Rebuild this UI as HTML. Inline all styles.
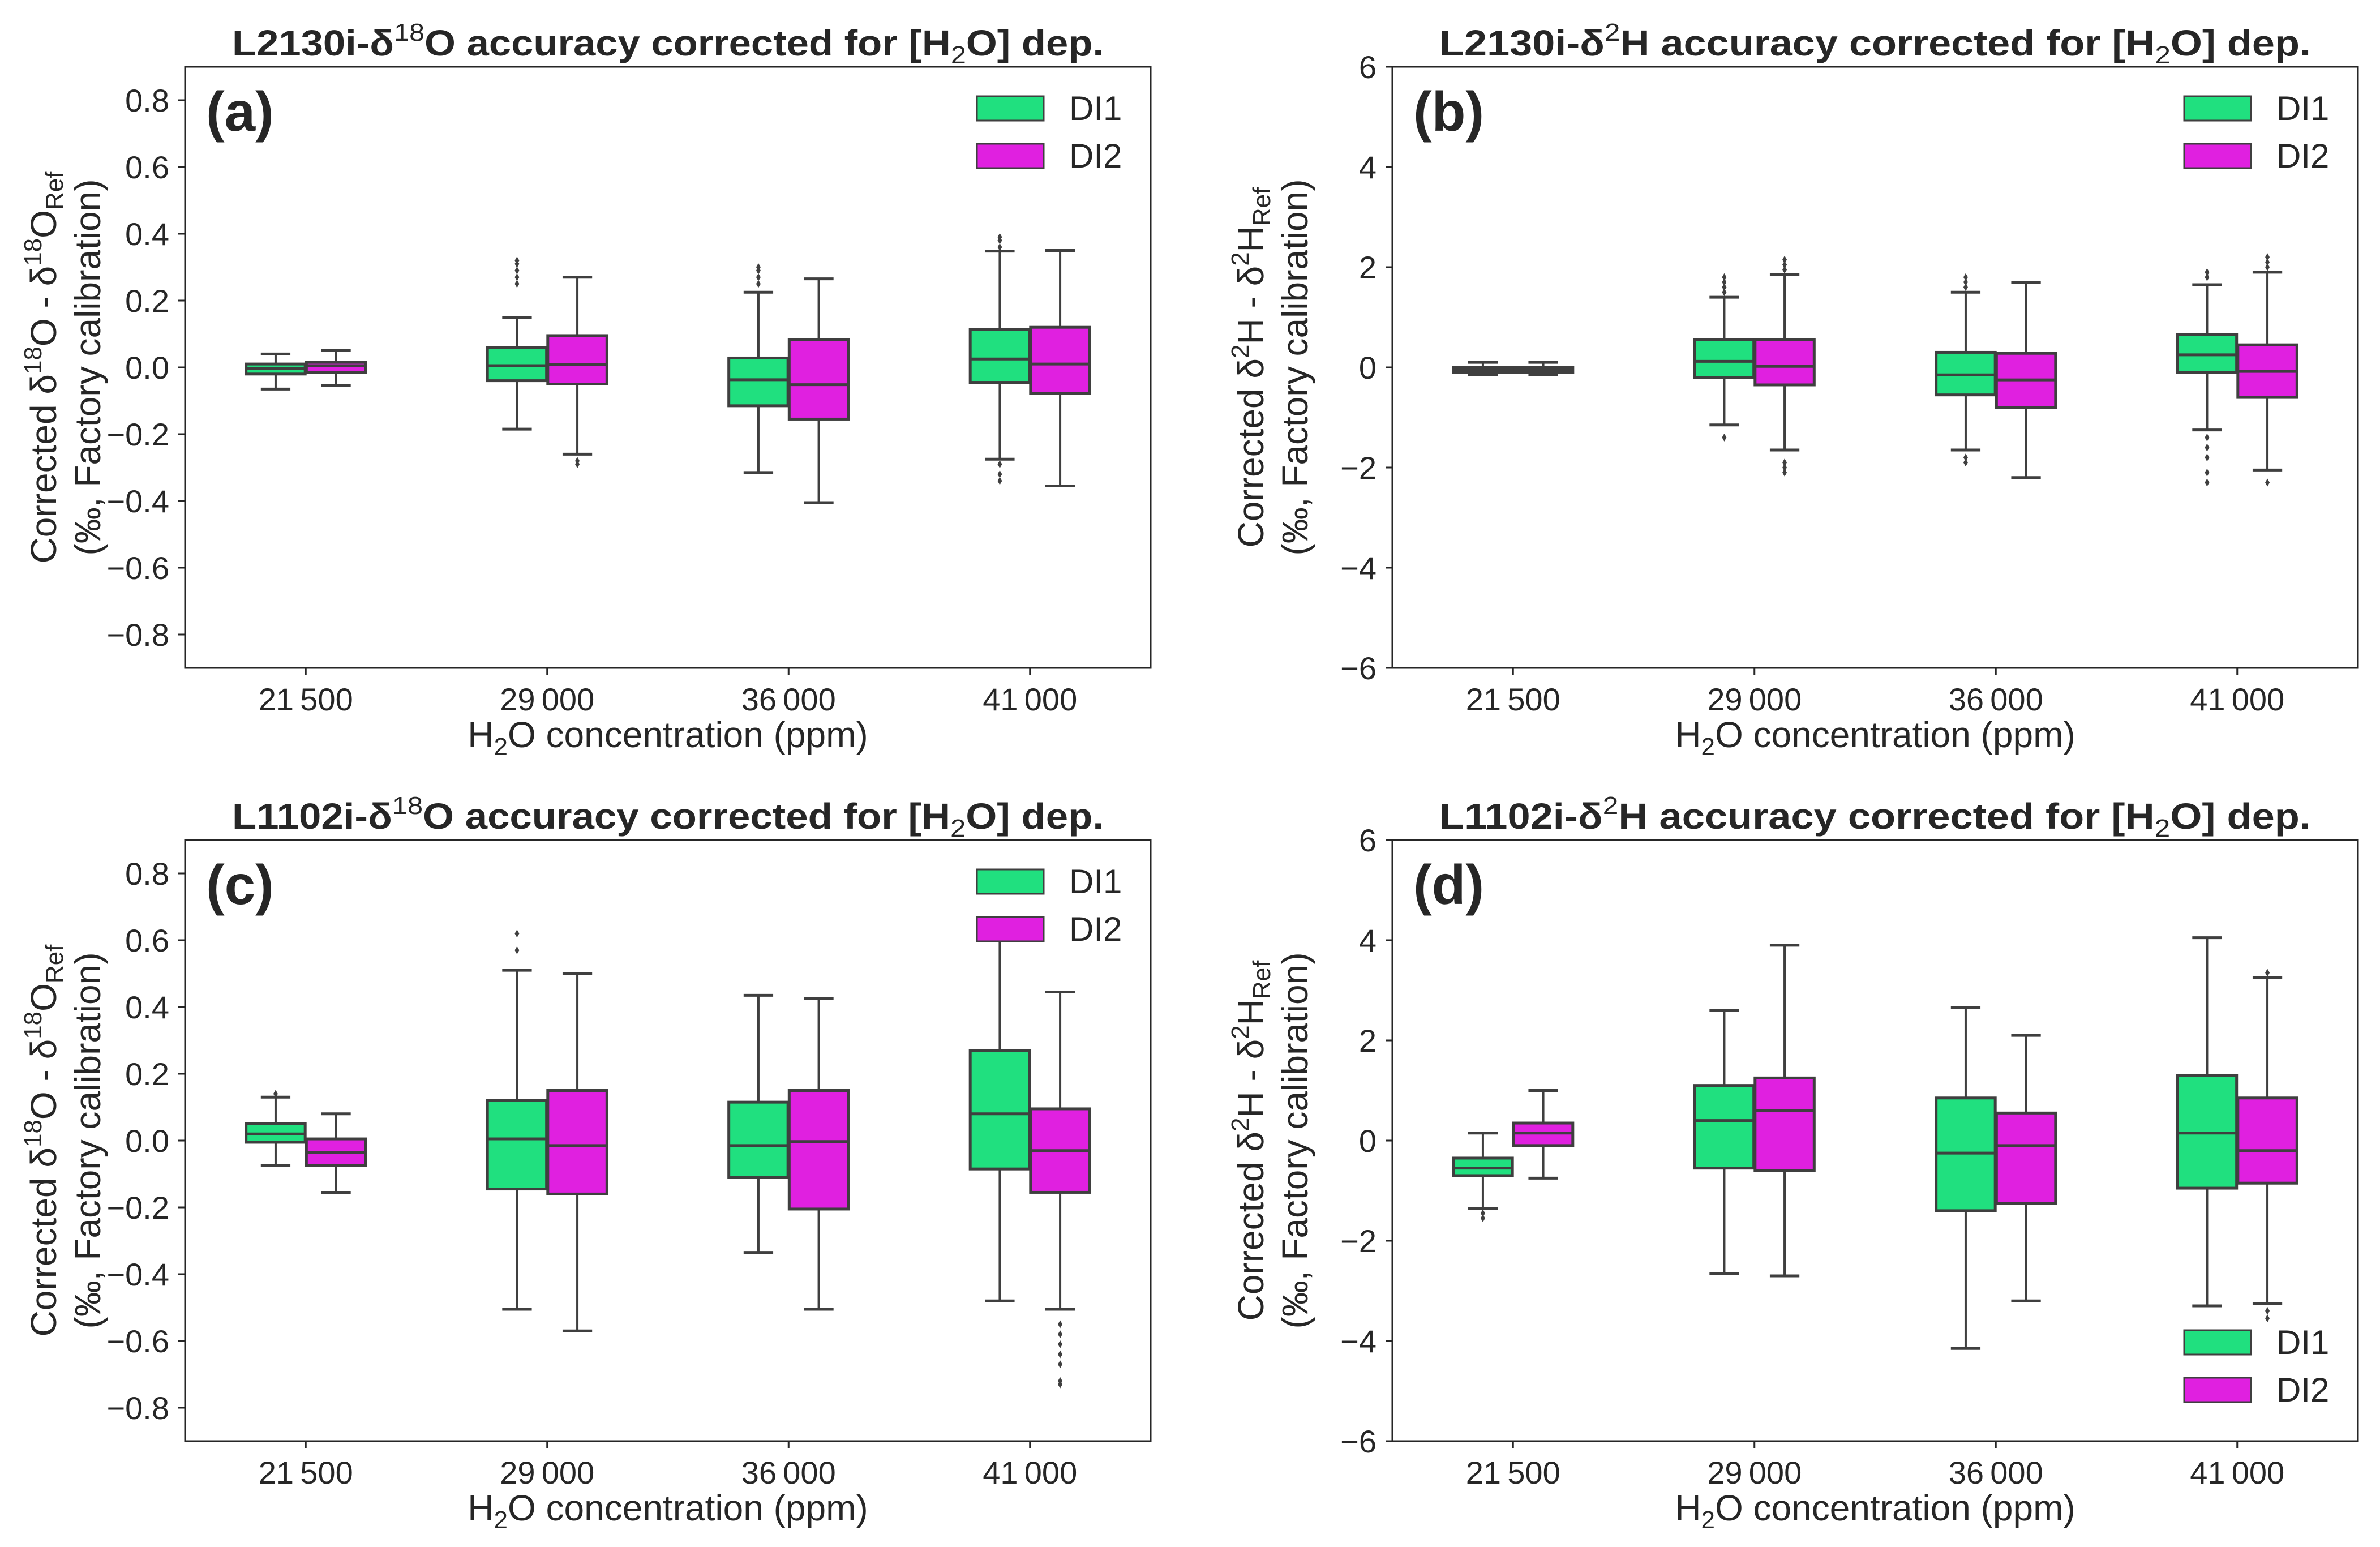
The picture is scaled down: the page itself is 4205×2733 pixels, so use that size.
<!DOCTYPE html>
<html><head><meta charset="utf-8">
<style>
html,body{margin:0;padding:0;background:#fff;}
svg{display:block;}
text{font-family:"Liberation Sans",sans-serif;fill:#262626;}
</style></head>
<body>
<svg id="fig" width="4205" height="2733" viewBox="0 0 4205 2733" xmlns="http://www.w3.org/2000/svg"></svg>
<script>
// ---- data ----
const categories = ["21\u2009500","29\u2009000","36\u2009000","41\u2009000"];
const seriesNames = ["DI1","DI2"];
// each box: [whiskerLow, q1, median, q3, whiskerHigh]
const aDI1 = [[-0.065,-0.02,-0.003,0.01,0.04],[-0.185,-0.04,0.005,0.06,0.15],[-0.315,-0.115,-0.037,0.028,0.225],[-0.275,-0.045,0.025,0.113,0.348]];
const aDI2 = [[-0.055,-0.015,0.005,0.015,0.05],[-0.26,-0.05,0.008,0.095,0.27],[-0.405,-0.155,-0.052,0.083,0.265],[-0.355,-0.078,0.01,0.12,0.35]];
const aOut1 = [[],[0.25,0.27,0.29,0.31,0.32],[0.25,0.27,0.29,0.3],[0.36,0.38,0.39,-0.29,-0.32,-0.34]];
const aOut2 = [[],[-0.28,-0.29],[],[]];
const bDI1 = [[-0.15,-0.1,-0.05,0.0,0.1],[-1.15,-0.2,0.12,0.55,1.4],[-1.65,-0.55,-0.15,0.3,1.5],[-1.25,-0.1,0.25,0.65,1.65]];
const bDI2 = [[-0.15,-0.1,-0.05,0.0,0.1],[-1.65,-0.35,0.02,0.55,1.85],[-2.2,-0.8,-0.25,0.28,1.7],[-2.05,-0.6,-0.08,0.45,1.9]];
const bOut1 = [[],[1.5,1.6,1.7,1.8,-1.4],[1.6,1.7,1.8,-1.8,-1.9],[1.8,1.9,-1.4,-1.6,-1.8,-2.1,-2.3]];
const bOut2 = [[],[1.95,2.05,2.15,-1.9,-2.0,-2.1],[],[2.0,2.1,2.2,-2.3]];
const cDI1 = [[-0.075,-0.005,0.02,0.05,0.13],[-0.505,-0.145,0.005,0.12,0.51],[-0.335,-0.11,-0.015,0.115,0.435],[-0.48,-0.085,0.08,0.27,0.6]];
const cDI2 = [[-0.155,-0.075,-0.035,0.005,0.08],[-0.57,-0.16,-0.015,0.15,0.5],[-0.505,-0.205,-0.003,0.15,0.425],[-0.505,-0.155,-0.03,0.095,0.445]];
const cOut1 = [[0.14],[0.57,0.62],[],[]];
const cOut2 = [[],[],[],[-0.55,-0.58,-0.61,-0.64,-0.67,-0.72,-0.73]];
const dDI1 = [[-1.35,-0.7,-0.55,-0.35,0.15],[-2.65,-0.55,0.4,1.1,2.6],[-4.15,-1.4,-0.25,0.85,2.65],[-3.3,-0.95,0.15,1.3,4.05]];
const dDI2 = [[-0.75,-0.1,0.15,0.35,1.0],[-2.7,-0.6,0.6,1.25,3.9],[-3.2,-1.25,-0.1,0.55,2.1],[-3.25,-0.85,-0.2,0.85,3.25]];
const dOut1 = [[-1.45,-1.55],[],[],[-4.6,-4.7]];
const dOut2 = [[],[],[],[3.35,-3.4,-3.55]];
const ticksO = [-0.8,-0.6,-0.4,-0.2,0.0,0.2,0.4,0.6,0.8];
const ticksH = [-6,-4,-2,0,2,4,6];

const NS="http://www.w3.org/2000/svg";
const svg=document.getElementById('fig');
const COLORS=["#20e07f","#e020e0"], EDGE="#3f3f3f";
function mk(tag,attrs,parent){const e=document.createElementNS(NS,tag);for(const k in attrs)e.setAttribute(k,attrs[k]);(parent||svg).appendChild(e);return e;}

const panels=[
 {id:"a",x0:327,y0:118,ymin:-0.9,ymax:0.9,ticks:ticksO,fmt:v=>v.toFixed(1).replace('-','\u2212'),d:[aDI1,aDI2],o:[aOut1,aOut2],inst:"L2130i",iso:"18",el:"O",legend:"top"},
 {id:"b",x0:2460,y0:118,ymin:-6,ymax:6,ticks:ticksH,fmt:v=>String(v).replace('-','\u2212'),d:[bDI1,bDI2],o:[bOut1,bOut2],inst:"L2130i",iso:"2",el:"H",legend:"top"},
 {id:"c",x0:327,y0:1484,ymin:-0.9,ymax:0.9,ticks:ticksO,fmt:v=>v.toFixed(1).replace('-','\u2212'),d:[cDI1,cDI2],o:[cOut1,cOut2],inst:"L1102i",iso:"18",el:"O",legend:"top"},
 {id:"d",x0:2460,y0:1484,ymin:-6,ymax:6,ticks:ticksH,fmt:v=>String(v).replace('-','\u2212'),d:[dDI1,dDI2],o:[dOut1,dOut2],inst:"L1102i",iso:"2",el:"H",legend:"bottom"}
];
const W=1706,H=1062;

panels.forEach(p=>{
  const g=mk('g',{});
  
  
  const yS=v=>p.y0+H-(v-p.ymin)/(p.ymax-p.ymin)*H;
  const cw=W/categories.length;
  const xC=i=>p.x0+cw*(i+0.5);
  // title
  const t=mk('text',{x:p.x0+W/2,y:p.y0-20,'text-anchor':'middle','font-size':64,'font-weight':'bold',textLength:1540,lengthAdjust:'spacingAndGlyphs'},g);
  
  
  t.innerHTML=p.inst+'-\u03b4<tspan dy="-26" font-size="44" font-weight="normal">'+p.iso+'</tspan><tspan dy="26">'+p.el+' accuracy corrected for [H</tspan><tspan dy="14" font-size="44" font-weight="normal">2</tspan><tspan dy="-14">O] dep.</tspan>';
  // y ticks
  p.ticks.forEach(v=>{
    const y=yS(v);
    mk('line',{x1:p.x0-12,x2:p.x0,y1:y,y2:y,stroke:'#262626','stroke-width':3},g);
    const tl=mk('text',{x:p.x0-28,y:y+20,'text-anchor':'end','font-size':56},g);
    
    
    tl.textContent=p.fmt(v);
  });
  // x ticks
  categories.forEach((c,i)=>{
    const x=xC(i);
    mk('line',{x1:x,x2:x,y1:p.y0+H,y2:p.y0+H+12,stroke:'#262626','stroke-width':3},g);
    const tl=mk('text',{x:x,y:p.y0+H+75,'text-anchor':'middle','font-size':56},g);
    
    
    tl.textContent=c;
  });
  // x label
  const xl=mk('text',{x:p.x0+W/2,y:p.y0+H+140,'text-anchor':'middle','font-size':64},g);
  
  
  xl.innerHTML='H<tspan dy="14" font-size="44">2</tspan><tspan dy="-14">O concentration (ppm)</tspan>';
  // y label
  const cy=p.y0+H/2;
  const yl=mk('text',{transform:`translate(${p.x0-228},${cy}) rotate(-90)`,'text-anchor':'middle','font-size':64},g);
  
  
  yl.innerHTML='Corrected \u03b4<tspan dy="-26" font-size="44">'+p.iso+'</tspan><tspan dy="26">'+p.el+' - \u03b4</tspan><tspan dy="-26" font-size="44">'+p.iso+'</tspan><tspan dy="26">'+p.el+'</tspan><tspan dy="12" font-size="44">Ref</tspan>';
  const yl2=mk('text',{transform:`translate(${p.x0-150},${cy}) rotate(-90)`,'text-anchor':'middle','font-size':64},g);
  
  
  yl2.textContent='(\u2030, Factory calibration)';
  // boxes
  const bw=cw*0.245;
  p.d.forEach((ser,s)=>{
    ser.forEach((b,i)=>{
      const cx=xC(i)+(s===0?-1:1)*cw*0.125;
      const bg=mk('g',{},g);
      
      
      mk('line',{x1:cx,x2:cx,y1:yS(b[0]),y2:yS(b[1]),stroke:EDGE,'stroke-width':4},bg);
      mk('line',{x1:cx,x2:cx,y1:yS(b[3]),y2:yS(b[4]),stroke:EDGE,'stroke-width':4},bg);
      mk('line',{x1:cx-bw/4,x2:cx+bw/4,y1:yS(b[0]),y2:yS(b[0]),stroke:EDGE,'stroke-width':5},bg);
      mk('line',{x1:cx-bw/4,x2:cx+bw/4,y1:yS(b[4]),y2:yS(b[4]),stroke:EDGE,'stroke-width':5},bg);
      mk('rect',{x:cx-bw/2,y:yS(b[3]),width:bw,height:Math.max(yS(b[1])-yS(b[3]),1),fill:COLORS[s],stroke:EDGE,'stroke-width':5},bg);
      mk('line',{x1:cx-bw/2,x2:cx+bw/2,y1:yS(b[2]),y2:yS(b[2]),stroke:EDGE,'stroke-width':5},bg);
      p.o[s][i].forEach(v=>{
        const y=yS(v);
        const m=mk('path',{d:`M${cx},${y-7} L${cx+4},${y} L${cx},${y+7} L${cx-4},${y} Z`,fill:EDGE},bg);
        
        
      });
    });
  });
  // frame
  mk('rect',{x:p.x0,y:p.y0,width:W,height:H,fill:'none',stroke:'#262626','stroke-width':3},g);
  // panel letter
  const pl=mk('text',{x:p.x0+37,y:p.y0+113,'font-size':98,'font-weight':'bold'},g);
  
  
  pl.textContent='('+p.id+')';
  // legend
  const lx=p.x0+W-307;
  const ly=p.legend==='top'? p.y0+52 : p.y0+H-196;
  const lg=mk('g',{},g);
  
  
  if(p.legend==='bottom') mk('rect',{x:lx-10,y:ly-10,width:300,height:180,fill:'#fff'},lg);
  seriesNames.forEach((n,s)=>{
    const e=mk('g',{},lg);
    
    
    mk('rect',{x:lx,y:ly+s*84,width:118,height:43,fill:COLORS[s],stroke:EDGE,'stroke-width':3},e);
    const tx=mk('text',{x:lx+163,y:ly+s*84+42,'font-size':60},e);
    tx.textContent=n;
  });
});
</script>
</body></html>
